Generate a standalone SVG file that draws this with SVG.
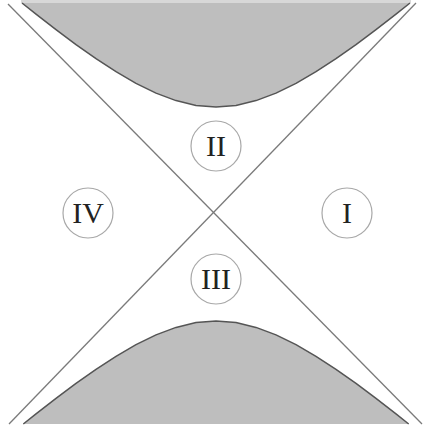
<svg xmlns="http://www.w3.org/2000/svg" width="424" height="431" viewBox="0 0 424 431">
  <style>
    .shade { fill: #bebebe; stroke: none; }
    .edge { fill: none; stroke: #555555; stroke-width: 1.5; stroke-linejoin: round; }
    .diag { fill: none; stroke: #7a7a7a; stroke-width: 1.3; }
    .ring { fill: none; stroke: #a8a8a8; stroke-width: 1.2; }
    .lbl { font-family: "Liberation Serif", "Times New Roman", serif; font-size: 30px; fill: #222222; text-anchor: middle; }
  </style>
  <rect x="0" y="0" width="424" height="431" fill="#ffffff"/>
  <g id="singularity-top">
    <rect x="21" y="0" width="390" height="3" fill="#d8d8d8"/>
    <path class="shade" d="M 22,3 L 36,14.2 L 56,29.7 L 76,44.7 L 96,58.7 L 116,71.7 L 136,83.3 L 156,93.1 L 176,100.6 L 196,105.4 L 216,107 L 236,105.4 L 256,100.6 L 276,93.1 L 296,83.3 L 316,71.7 L 336,58.7 L 356,44.7 L 376,29.7 L 396,14.2 L 410,3 Z"/>
    <path class="edge" d="M 22,3 L 36,14.2 L 56,29.7 L 76,44.7 L 96,58.7 L 116,71.7 L 136,83.3 L 156,93.1 L 176,100.6 L 196,105.4 L 216,107 L 236,105.4 L 256,100.6 L 276,93.1 L 296,83.3 L 316,71.7 L 336,58.7 L 356,44.7 L 376,29.7 L 396,14.2 L 410,3"/>
  </g>
  <g id="singularity-bottom">
    <path class="shade" d="M 23.3,424 L 36,413.8 L 56,398.3 L 76,383.3 L 96,369.3 L 116,356.3 L 136,344.7 L 156,334.9 L 176,327.4 L 196,322.6 L 216,321 L 236,322.6 L 256,327.4 L 276,334.9 L 296,344.7 L 316,356.3 L 336,369.3 L 356,383.3 L 376,398.3 L 396,413.8 L 408.7,424 Z"/>
    <path class="edge" d="M 23.3,424 L 36,413.8 L 56,398.3 L 76,383.3 L 96,369.3 L 116,356.3 L 136,344.7 L 156,334.9 L 176,327.4 L 196,322.6 L 216,321 L 236,322.6 L 256,327.4 L 276,334.9 L 296,344.7 L 316,356.3 L 336,369.3 L 356,383.3 L 376,398.3 L 396,413.8 L 408.7,424"/>
  </g>
  <g id="horizons">
    <line class="diag" x1="8" y1="4" x2="422" y2="424"/>
    <line class="diag" x1="416" y1="3" x2="9" y2="424"/>
  </g>
  <g id="region-II">
    <circle class="ring" cx="216" cy="146" r="25"/>
    <text class="lbl" x="216" y="156">II</text>
  </g>
  <g id="region-III">
    <circle class="ring" cx="216" cy="279" r="25"/>
    <text class="lbl" x="216" y="289">III</text>
  </g>
  <g id="region-IV">
    <circle class="ring" cx="88" cy="213" r="25"/>
    <text class="lbl" x="88" y="223">IV</text>
  </g>
  <g id="region-I">
    <circle class="ring" cx="347" cy="213" r="25"/>
    <text class="lbl" x="347" y="223">I</text>
  </g>
</svg>
